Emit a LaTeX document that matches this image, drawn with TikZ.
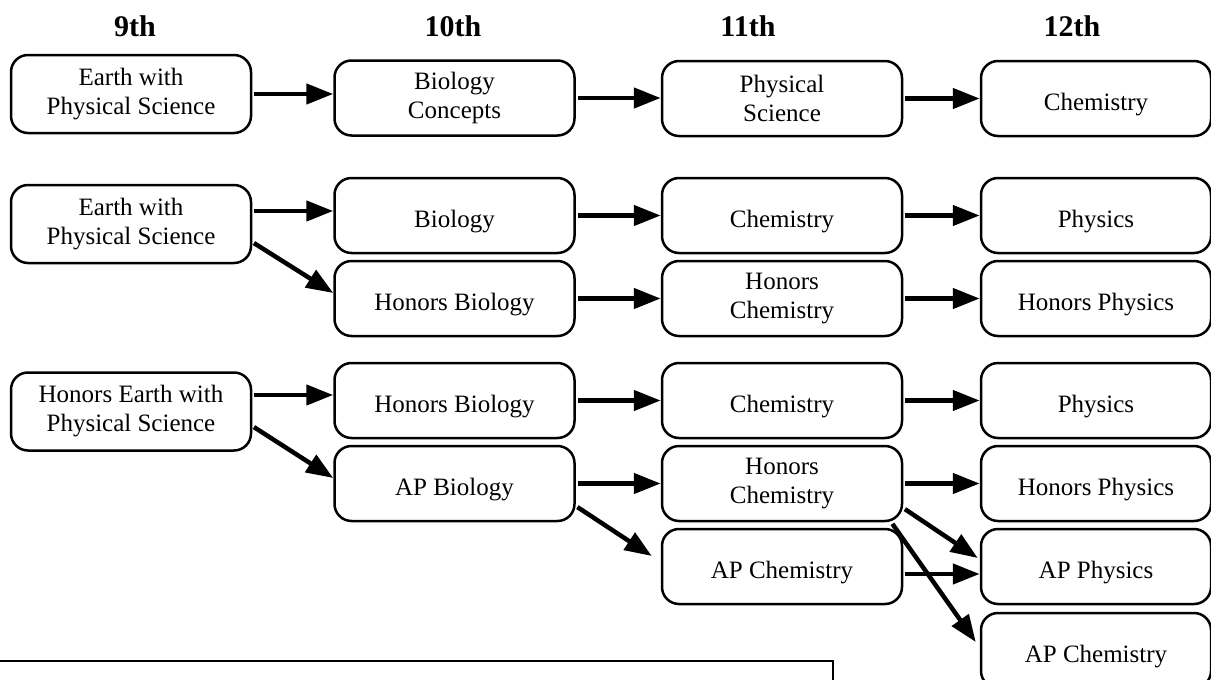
\documentclass[tikz,border=0pt]{standalone}
\usepackage{fontspec}
\setmainfont{Liberation Serif}
\usetikzlibrary{arrows.meta}

\tikzset{
  course/.style={draw, line width=2.5pt, rounded corners=17pt, fill=white,
      minimum width=240pt, minimum height=75pt, inner sep=0pt, align=center,
      font=\fontsize{25}{29}\selectfont},
  single/.style={text height=28pt, text depth=5pt},
  firstcourse/.style={course, minimum height=78pt},
  lastcourse/.style={course, minimum width=230pt, single},
  grade/.style={font=\fontsize{30}{34}\selectfont\bfseries, anchor=base},
  link/.style={-{Triangle[length=27pt, width=20pt]}, line width=4.5pt, shorten <=2pt},
}

\begin{document}
\begin{tikzpicture}[x=1pt, y=-1pt]

\clip (0,0) rectangle (1211,680);
\fill[white] (0,0) rectangle (1211,680);

% Grade headers
\node[grade] (g9)  at (135,36)  {9th};
\node[grade] (g10) at (453,36)  {10th};
\node[grade] (g11) at (748,36)  {11th};
\node[grade] (g12) at (1072,36) {12th};

% 9th grade
\node[firstcourse] (a1) at (131,94)    {Earth with\\Physical Science};
\node[firstcourse] (a2) at (131,224)   {Earth with\\Physical Science};
\node[firstcourse] (a3) at (131,411.5) {Honors Earth with\\Physical Science};

% 10th grade
\node[course] (b1) at (454.5,98)            {Biology\\Concepts};
\node[course, single] (b2) at (454.5,215.5) {Biology};
\node[course, single] (b3) at (454.5,298.5) {Honors Biology};
\node[course, single] (b4) at (454.5,400.5) {Honors Biology};
\node[course, single] (b5) at (454.5,483.5) {AP Biology};

% 11th grade
\node[course] (c1) at (782,98.5)          {Physical\\Science};
\node[course, single] (c2) at (782,215.5) {Chemistry};
\node[course] (c3) at (782,298.5)         {Honors\\Chemistry};
\node[course, single] (c4) at (782,400.5) {Chemistry};
\node[course] (c5) at (782,483.5)         {Honors\\Chemistry};
\node[course, single] (c6) at (782,566.5) {AP Chemistry};

% 12th grade
\node[lastcourse] (d1) at (1096,98.5)  {Chemistry};
\node[lastcourse] (d2) at (1096,215.5) {Physics};
\node[lastcourse] (d3) at (1096,298.5) {Honors Physics};
\node[lastcourse] (d4) at (1096,400.5) {Physics};
\node[lastcourse] (d5) at (1096,483.5) {Honors Physics};
\node[lastcourse] (d6) at (1096,566.5) {AP Physics};
\node[lastcourse] (d7) at (1096,650.5) {AP Chemistry};

% Track 1
\draw[link] (a1.east) -- (a1.east -| b1.west);
\draw[link] (b1.east) -- (b1.east -| c1.west);
\draw[link] (c1.east) -- (c1.east -| d1.west);

% Track 2
\draw[link] ([yshift=13pt]a2.east) -- ([yshift=4.5pt]b2.west);
\draw[link] ([yshift=-18pt]a2.east) -- ([yshift=5.5pt]b3.west);
\draw[link] (b2.east) -- (c2.west);
\draw[link] (b3.east) -- (c3.west);
\draw[link] (c2.east) -- (d2.west);
\draw[link] (c3.east) -- (d3.west);

% Track 3
\draw[link] ([yshift=16.5pt]a3.east) -- ([yshift=5.5pt]b4.west);
\draw[link] ([yshift=-14.5pt]a3.east) -- ([yshift=5.5pt]b5.west);
\draw[link] (b4.east) -- (c4.west);
\draw[link] (b5.east) -- (c5.west);
\draw[link] ([yshift=-22.5pt]b5.east) -- ([xshift=-9pt,yshift=10.5pt]c6.west);
\draw[link] (c4.east) -- (d4.west);
\draw[link] (c5.east) -- (d5.west);
\draw[link] ([yshift=-24.5pt]c5.east) -- ([xshift=-2pt,yshift=8.5pt]d6.west);
\draw[link] ([xshift=-12pt]c5.south east) -- ([xshift=-4pt,yshift=8.5pt]d7.west);
\draw[link] ([yshift=-7.5pt]c6.east) -- ([yshift=-7.5pt]d6.west);

% Note box (cut off at the bottom)
\draw[line width=2.5pt] (-5,661) rectangle (833,720);

\end{tikzpicture}
\end{document}
